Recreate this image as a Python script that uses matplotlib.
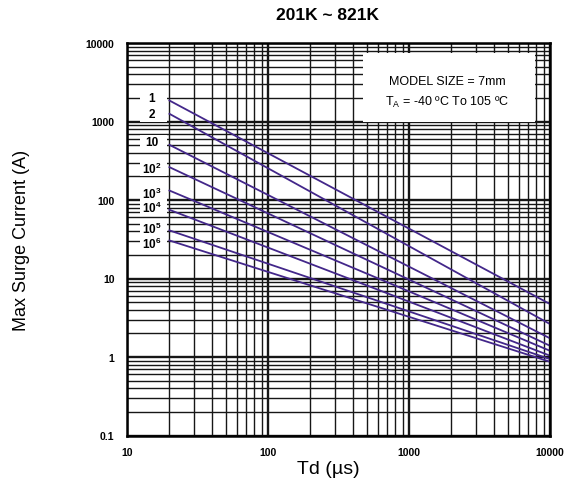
"""Max surge current vs. pulse duration derating curves, 201K ~ 821K, 7 mm."""

import matplotlib
matplotlib.use('Agg')
from matplotlib import pyplot as plt
from matplotlib.patches import Rectangle
from matplotlib.transforms import blended_transform_factory
from matplotlib.ticker import FixedLocator, NullFormatter


# =============================================================================
# Data
# =============================================================================
# Number of surges for each curve
labels = ['1', '2', '10', '10$^\\mathregular{2}$', '10$^\\mathregular{3}$',
    '10$^\\mathregular{4}$', '10$^\\mathregular{5}$', '10$^\\mathregular{6}$']

# Pulse duration end points (us)
td = [20, 10000]

# Surge current at the two end points (A)
i_start = [1850, 1253, 504, 262, 132, 75, 41, 30.5]
i_end = [4.73, 2.63, 1.73, 1.39, 1.20, 1.04, 0.94, 0.87]

# Label positions (A) at td = 15 us
label_y = [2020, 1236, 542, 251, 121, 80, 44, 27.7]
label_x = 15

# Axis ticks
xticks = [10, 100, 1000, 10000]
xlabels = ['10', '100', '1000', '10000']
yticks = [0.1, 1, 10, 100, 1000, 10000]
ylabels = ['0.1', '1', '10', '100', '1000', '10000']


# =============================================================================
# Plot parameters
# =============================================================================
matplotlib.rcParams['font.family'] = ['Liberation Sans', 'DejaVu Sans']
matplotlib.rcParams['mathtext.fontset'] = 'custom'
matplotlib.rcParams['mathtext.rm'] = 'Liberation Sans'
matplotlib.rcParams['mathtext.bf'] = 'Liberation Sans:bold'
line_color = '#43278a'
grid_color = '#161616'


# =============================================================================
# Create the figure
# =============================================================================
fig = plt.figure(figsize=(5.64, 4.89), dpi=100)
ax = fig.add_axes([127 / 564, 1 - 436.5 / 489, 423 / 564, 392.5 / 489])
ax.set_xscale('log')
ax.set_yscale('log')
ax.set_xlim(10, 10000)
ax.set_ylim(0.1, 10000)

# Grid
ax.set_axisbelow(True)
ax.grid(which='major', color=grid_color, linewidth=1.7)
ax.grid(which='minor', color=grid_color, linewidth=1.0)
ax.xaxis.set_minor_locator(FixedLocator(
    [m * 10 ** d for d in range(1, 4) for m in range(2, 10)]))
ax.yaxis.set_minor_locator(FixedLocator(
    [m * 10 ** d for d in range(-1, 4) for m in range(2, 10)]))
ax.xaxis.set_minor_formatter(NullFormatter())
ax.yaxis.set_minor_formatter(NullFormatter())

# Curves
for k in range(len(labels)):
    ax.plot(td, [i_start[k], i_end[k]], color=line_color, linewidth=1.3,
        zorder=3)

# Curve labels on white patches
trans = blended_transform_factory(ax.transAxes, ax.transData)
for k, lab in enumerate(labels):
    ax.add_patch(Rectangle((0.031, label_y[k] / 1.24), 0.064,
        label_y[k] * 1.24 - label_y[k] / 1.24, transform=trans,
        facecolor='white', edgecolor='none', zorder=2))
    ax.text(label_x, label_y[k], lab, ha='center', va='center', fontsize=8.5,
        fontweight='bold', zorder=4)

# Info box
ax.add_patch(Rectangle((0.558, 0.80), 0.407, 0.175, transform=ax.transAxes,
    facecolor='white', edgecolor='none', zorder=2))
ax.text(0.757, 0.903, 'MODEL SIZE = 7mm', transform=ax.transAxes,
    ha='center', va='center', fontsize=9, zorder=4)
ax.text(0.757, 0.852, 'T$_\\mathregular{A}$ = -40 ºC To 105 ºC',
    transform=ax.transAxes, ha='center', va='center', fontsize=9, zorder=4)

# Axes
for side in ['left', 'right', 'top', 'bottom']:
    ax.spines[side].set_linewidth(1.8)
    ax.spines[side].set_color('black')
    ax.spines[side].set_zorder(5)
ax.set_xticks(xticks)
ax.set_xticklabels(xlabels, fontsize=7.5, fontweight='bold')
ax.set_yticks(yticks)
ax.set_yticklabels(ylabels, fontsize=7.5, fontweight='bold')
ax.tick_params(which='both', length=0)
ax.tick_params(axis='x', pad=8)
ax.tick_params(axis='y', pad=9)

# Titles
fig.text(327.5 / 564, 1 - 15 / 489, '201K ~ 821K', ha='center', va='center',
    fontsize=12.5, fontweight='bold')
fig.text(328 / 564, 1 - 470 / 489, 'Td (µs)', ha='center', va='center',
    fontsize=14)
fig.text(22 / 564, 1 - 240 / 489, 'Max Surge Current (A)', ha='center',
    va='center', rotation=90, fontsize=13)

fig.savefig('out.png', dpi=100)
plt.close()
